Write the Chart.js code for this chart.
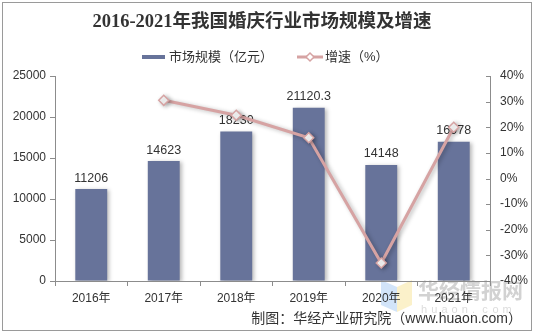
<!DOCTYPE html>
<html>
<head>
<meta charset="utf-8">
<script src="https://cdn.jsdelivr.net/npm/chart.js@4"></script>
<style>
  html, body { margin: 0; padding: 0; background: #fff; }
  canvas { display: block; }
</style>
</head>
<body>
<canvas id="chart" width="535" height="336"></canvas>
<script>
// ---- data ----
const years = ['2016年', '2017年', '2018年', '2019年', '2020年', '2021年'];
const marketSize = [11206, 14623, 18230, 21120.3, 14148, 16978];   // 亿元
const growthRate = [null, 30.5, 24.7, 15.9, -33.0, 20.0];           // %
const leftTicks = [0, 5000, 10000, 15000, 20000, 25000];
const rightTicks = [-40, -30, -20, -10, 0, 10, 20, 30, 40];

const BAR_COLOR = '#67739a';
const LINE_COLOR = '#d6a3a3';
const AXIS_COLOR = '#8c8c8c';
const TEXT_COLOR = '#333';
const FONT = '"Liberation Sans", Arial, "Noto Sans CJK SC", sans-serif';

// title, legend, footer, watermark, frame and the inward ticks of the right axis
const decorations = {
  id: 'decorations',
  beforeDraw(chart) {
    const c = chart.ctx;
    c.save();
    c.fillStyle = '#fff';
    c.fillRect(0, 0, chart.width, chart.height);

    // faint watermark
    c.globalAlpha = 0.45;
    c.fillStyle = '#9cc3f2';
    c.beginPath();
    c.moveTo(381, 280); c.lineTo(397, 287); c.lineTo(397, 312); c.lineTo(381, 305);
    c.closePath(); c.fill();
    c.fillStyle = '#f7e08a';
    c.beginPath();
    c.moveTo(397, 287); c.lineTo(412, 280); c.lineTo(412, 305); c.lineTo(397, 312);
    c.closePath(); c.fill();
    c.globalAlpha = 1;
    c.fillStyle = '#d2d2d2';
    c.font = 'bold 21px "Noto Sans CJK SC"';
    c.textAlign = 'left';
    c.textBaseline = 'middle';
    c.fillText('华经情报网', 418, 290);
    c.font = '11px ' + FONT;
    c.fillStyle = '#dcdcdc';
    const site = 'huaon.com';
    for (let i = 0; i < site.length; i++) c.fillText(site[i], 421 + i * 10.2, 310);
    c.restore();
  },
  afterDraw(chart) {
    const c = chart.ctx;
    c.save();

    // frame
    c.strokeStyle = '#9a9a9a';
    c.lineWidth = 1;
    c.strokeRect(2.5, 2.5, 529, 328);

    // title
    c.fillStyle = TEXT_COLOR;
    c.textAlign = 'center';
    c.textBaseline = 'middle';
    c.font = 'bold 18.5px "Liberation Serif", "Noto Sans CJK SC", serif';
    c.fillText('2016-2021年我国婚庆行业市场规模及增速', 262, 22);

    // legend
    c.font = '13px ' + FONT;
    c.textAlign = 'left';
    c.fillStyle = BAR_COLOR;
    c.fillRect(142, 55, 23, 4);
    c.fillStyle = TEXT_COLOR;
    c.fillText('市场规模（亿元）', 169, 57);
    c.strokeStyle = LINE_COLOR;
    c.lineWidth = 3;
    c.beginPath(); c.moveTo(297, 57); c.lineTo(323, 57); c.stroke();
    c.fillStyle = '#fff';
    c.lineWidth = 1.5;
    c.beginPath();
    c.moveTo(310, 53); c.lineTo(314, 57); c.lineTo(310, 61); c.lineTo(306, 57);
    c.closePath(); c.fill(); c.stroke();
    c.fillStyle = TEXT_COLOR;
    c.fillText('增速（%）', 325, 57);

    // footer
    c.font = '14px ' + FONT;
    c.textAlign = 'right';
    c.fillText('制图：华经产业研究院（www.huaon.com）', 522, 319);

    // right axis tick marks point into the plot
    const y1 = chart.scales.y1;
    c.strokeStyle = AXIS_COLOR;
    c.lineWidth = 1;
    y1.ticks.forEach(t => {
      const py = Math.round(y1.getPixelForValue(t.value)) + 0.5;
      c.beginPath(); c.moveTo(y1.left - 4, py); c.lineTo(y1.left, py); c.stroke();
    });
    c.restore();
  }
};

// soft shadow under bars and line, value labels above bars
const barExtras = {
  id: 'barExtras',
  beforeDatasetDraw(chart, args) {
    const c = chart.ctx;
    c.save();
    c.shadowColor = 'rgba(0,0,0,0.28)';
    c.shadowBlur = 4;
    c.shadowOffsetX = 2;
    c.shadowOffsetY = 1;
  },
  afterDatasetDraw(chart, args) {
    const c = chart.ctx;
    c.restore();
    if (args.index !== 0) return;
    c.save();
    c.font = '12.5px ' + FONT;
    c.fillStyle = TEXT_COLOR;
    c.textAlign = 'center';
    c.textBaseline = 'middle';
    args.meta.data.forEach((bar, i) => {
      c.fillText(String(marketSize[i]), bar.x, bar.y - 11);
    });
    c.restore();
  }
};

new Chart(document.getElementById('chart'), {
  data: {
    labels: years,
    datasets: [
      {
        type: 'bar',
        label: '市场规模（亿元）',
        data: marketSize,
        yAxisID: 'y',
        backgroundColor: BAR_COLOR,
        barPercentage: 0.44,
        categoryPercentage: 1,
        order: 1
      },
      {
        type: 'line',
        label: '增速（%）',
        data: growthRate,
        yAxisID: 'y1',
        borderColor: LINE_COLOR,
        borderWidth: 3,
        tension: 0,
        pointStyle: 'rectRot',
        pointRadius: 5,
        pointBackgroundColor: '#fff',
        pointBorderColor: LINE_COLOR,
        pointBorderWidth: 1.5,
        order: 0
      }
    ]
  },
  options: {
    responsive: false,
    devicePixelRatio: 1,
    animation: false,
    layout: { padding: { top: 76, left: 0, right: 0, bottom: 0 } },
    plugins: {
      legend: { display: false },
      title: { display: false },
      tooltip: { enabled: false }
    },
    scales: {
      x: {
        offset: true,
        grid: { display: true, drawOnChartArea: false, offset: true, tickLength: 5, color: AXIS_COLOR },
        border: { color: AXIS_COLOR },
        ticks: { color: TEXT_COLOR, font: { family: FONT, size: 12 }, padding: 5, maxRotation: 0 },
        afterFit: s => { s.height = 55; }
      },
      y: {
        position: 'left',
        min: 0,
        max: 25000,
        afterBuildTicks: s => { s.ticks = leftTicks.map(v => ({ value: v })); },
        grid: { display: true, drawOnChartArea: false, tickLength: 5, color: AXIS_COLOR },
        border: { color: AXIS_COLOR },
        ticks: { color: TEXT_COLOR, font: { family: FONT, size: 12 }, padding: 4, callback: v => String(v) },
        afterFit: s => { s.width = 55; }
      },
      y1: {
        position: 'right',
        min: -40,
        max: 40,
        afterBuildTicks: s => { s.ticks = rightTicks.map(v => ({ value: v })); },
        grid: { display: false, drawTicks: false },
        border: { display: true, color: AXIS_COLOR },
        ticks: { color: TEXT_COLOR, font: { family: FONT, size: 12 }, padding: 10, callback: v => v + '%' },
        afterFit: s => { s.width = 45; }
      }
    }
  },
  plugins: [decorations, barExtras]
});
</script>
</body>
</html>
